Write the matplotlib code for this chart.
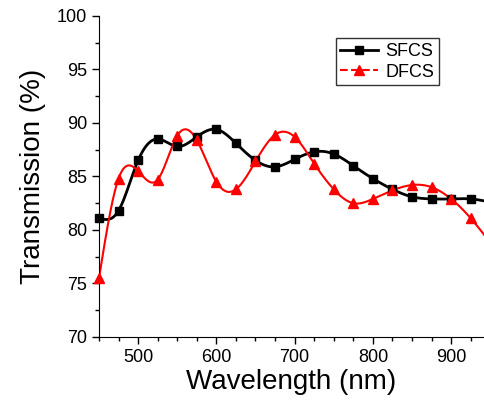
import numpy as np
import matplotlib
matplotlib.use("Agg")
import matplotlib.pyplot as plt
from matplotlib.ticker import MultipleLocator

# wavelengths (nm), one reading every 25 nm
wl = [450, 475, 500, 525, 550, 575, 600, 625, 650, 675, 700,
      725, 750, 775, 800, 825, 850, 875, 900, 925, 950]
sfcs = [81.1, 81.8, 86.5, 88.5, 87.8, 88.7, 89.4, 88.1, 86.5, 85.9, 86.6,
        87.3, 87.1, 86.0, 84.8, 83.8, 83.1, 82.9, 82.9, 82.9, 82.6]
dfcs = [75.5, 84.8, 85.5, 84.7, 88.8, 88.4, 84.5, 83.8, 86.4, 88.9, 88.7,
        86.2, 83.8, 82.5, 82.9, 83.7, 84.2, 84.0, 82.9, 81.1, 78.8]


def spline(x, y, n=400):
    """natural cubic spline through the points, for the smooth line"""
    x = np.asarray(x, float)
    y = np.asarray(y, float)
    h = np.diff(x)
    m = len(x)
    A = np.zeros((m, m))
    b = np.zeros(m)
    A[0, 0] = A[-1, -1] = 1
    for i in range(1, m - 1):
        A[i, i - 1] = h[i - 1]
        A[i, i] = 2 * (h[i - 1] + h[i])
        A[i, i + 1] = h[i]
        b[i] = 6 * ((y[i + 1] - y[i]) / h[i] - (y[i] - y[i - 1]) / h[i - 1])
    M = np.linalg.solve(A, b)
    xs = np.linspace(x[0], x[-1], n)
    k = np.clip(np.searchsorted(x, xs) - 1, 0, m - 2)
    t0 = xs - x[k]
    t1 = x[k + 1] - xs
    hk = h[k]
    ys = (M[k] * t1**3 + M[k + 1] * t0**3) / (6 * hk) \
        + (y[k] / hk - M[k] * hk / 6) * t1 + (y[k + 1] / hk - M[k + 1] * hk / 6) * t0
    return xs, ys


plt.rcParams["font.family"] = ["Liberation Sans", "DejaVu Sans"]

fig = plt.figure(figsize=(4.84, 4.05), dpi=100)
ax = fig.add_axes([0.2045, 0.168, 0.7955, 0.7926])

xs, ys = spline(wl, sfcs)
ax.plot(xs, ys, color="black", lw=2, zorder=2)
ax.plot(wl, sfcs, "s", color="black", ms=5.5, zorder=3, clip_on=False)

xs, ys = spline(wl, dfcs)
ax.plot(xs, ys, color="red", lw=1.5, zorder=2)
ax.plot(wl, dfcs, "^", color="red", ms=7, zorder=3, clip_on=False)

# legend handles (line + marker)
ax.plot([], [], "-s", color="black", lw=2, ms=5.5, label="SFCS")
ax.plot([], [], "--^", color="red", lw=1.5, ms=7, label="DFCS")

ax.set_xlim(450, 942)
ax.set_ylim(70, 100)
ax.xaxis.set_major_locator(MultipleLocator(100))
ax.xaxis.set_minor_locator(MultipleLocator(25))
ax.yaxis.set_major_locator(MultipleLocator(5))
ax.yaxis.set_minor_locator(MultipleLocator(2.5))
ax.tick_params(which="major", direction="out", length=5, width=1, labelsize=13)
ax.tick_params(which="minor", direction="out", length=3, width=1)
ax.spines["top"].set_visible(False)
ax.spines["right"].set_visible(False)

ax.set_xlabel("Wavelength (nm)", fontsize=20, labelpad=2)
ax.set_ylabel("Transmission (%)", fontsize=20, labelpad=8)

handles, labels = ax.get_legend_handles_labels()
ax.legend(handles[-2:], labels[-2:], loc="upper left", bbox_to_anchor=(0.615, 0.93),
          fontsize=13, frameon=True, fancybox=False, edgecolor="black",
          handlelength=2.1, handletextpad=0.4, borderpad=0.25, labelspacing=0.2,
          borderaxespad=0)

fig.savefig("out.png", dpi=100)
